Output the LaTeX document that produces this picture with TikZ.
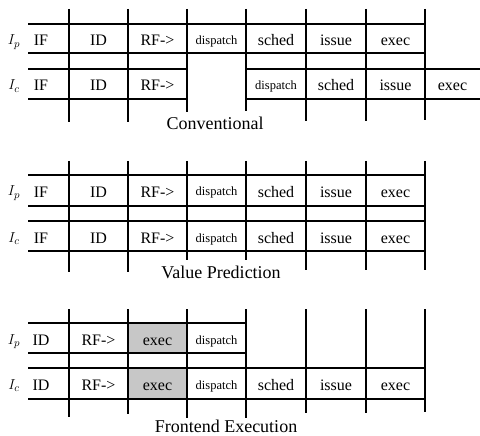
\documentclass[tikz,border=0pt]{standalone}
\usepackage{fontspec}
\setmainfont{Liberation Serif}
\begin{document}
\begin{tikzpicture}[x=1pt,y=-1pt,
  grid/.style={line width=1.2pt, black},
  cell/.style={inner sep=0pt, anchor=base, font=\fontsize{16}{18}\selectfont},
  small/.style={inner sep=0pt, anchor=base, font=\fontsize{12.5}{14}\selectfont},
  lbl/.style={inner sep=0pt, anchor=base, font=\fontsize{15}{17}\selectfont},
  captext/.style={inner sep=0pt, anchor=base, font=\fontsize{18}{20}\selectfont},
  shadecell/.style={fill=black!22, draw=none}]
\useasboundingbox (0,0) rectangle (480,436);

% ---------------- Section 1: Conventional ----------------
\draw[grid] (28,24) -- (425,24) (28,53) -- (425,53);
\draw[grid] (28,69) -- (187,69) (246,69) -- (480,69)
            (28,99) -- (187,99) (246,99) -- (480,99);
\foreach \x/\b in {69/122,128/122,187/112,246/111,306/121,366/121,425/120}
  \draw[grid] (\x,9) -- (\x,\b);

\node[lbl] (a1l) at (14,45) {$I_p$};
\node[lbl] (a2l) at (14,90) {$I_c$};
\node[cell] (a11) at (41,46) {IF};
\node[cell] (a12) at (98.5,46) {ID};
\node[cell] (a13) at (157.5,46) {RF->};
\node[small] (a14) at (216.5,45) {dispatch};
\node[cell] (a15) at (276,46) {sched};
\node[cell] (a16) at (336,46) {issue};
\node[cell] (a17) at (395.5,46) {exec};
\node[cell] (a21) at (41,91) {IF};
\node[cell] (a22) at (98.5,91) {ID};
\node[cell] (a23) at (157.5,91) {RF->};
\node[small] (a25) at (276,90) {dispatch};
\node[cell] (a26) at (336,91) {sched};
\node[cell] (a27) at (395.5,91) {issue};
\node[cell] (a28) at (452.5,91) {exec};
\node[captext] (capa) at (215,130) {Conventional};

% ---------------- Section 2: Value Prediction ----------------
\draw[grid] (28,175) -- (425,175) (28,206) -- (425,206)
            (28,221) -- (425,221) (28,251) -- (425,251);
\foreach \x/\b in {69/272,128/272,187/260,246/260,306/270,366/270,425/270}
  \draw[grid] (\x,161) -- (\x,\b);

\node[lbl] (b1l) at (14,196) {$I_p$};
\node[lbl] (b2l) at (14,242) {$I_c$};
\node[cell] (b11) at (41,197) {IF};
\node[cell] (b12) at (98.5,197) {ID};
\node[cell] (b13) at (157.5,197) {RF->};
\node[small] (b14) at (216.5,196) {dispatch};
\node[cell] (b15) at (276,197) {sched};
\node[cell] (b16) at (336,197) {issue};
\node[cell] (b17) at (395.5,197) {exec};
\node[cell] (b21) at (41,243) {IF};
\node[cell] (b22) at (98.5,243) {ID};
\node[cell] (b23) at (157.5,243) {RF->};
\node[small] (b24) at (216.5,242) {dispatch};
\node[cell] (b25) at (276,243) {sched};
\node[cell] (b26) at (336,243) {issue};
\node[cell] (b27) at (395.5,243) {exec};
\node[captext] (capb) at (221,278) {Value Prediction};

% ---------------- Section 3: Frontend Execution ----------------
\fill[shadecell] (128,323) rectangle (187,353);
\fill[shadecell] (128,368) rectangle (187,399);
\draw[grid] (28,323) -- (246,323) (28,353) -- (246,353);
\draw[grid] (28,368) -- (425,368) (28,399) -- (425,399);
\foreach \x/\b in {69/417,128/414,187/418,246/418,306/413,366/413,425/412}
  \draw[grid] (\x,309) -- (\x,\b);

\node[lbl] (c1l) at (14,344) {$I_p$};
\node[lbl] (c2l) at (14,389) {$I_c$};
\node[cell] (c11) at (41,345) {ID};
\node[cell] (c12) at (98.5,345) {RF->};
\node[cell] (c13) at (157.5,345) {exec};
\node[small] (c14) at (216.5,344) {dispatch};
\node[cell] (c21) at (41,390) {ID};
\node[cell] (c22) at (98.5,390) {RF->};
\node[cell] (c23) at (157.5,390) {exec};
\node[small] (c24) at (216.5,389) {dispatch};
\node[cell] (c25) at (276,390) {sched};
\node[cell] (c26) at (336,390) {issue};
\node[cell] (c27) at (395.5,390) {exec};
\node[captext] (capc) at (226,432) {Frontend Execution};
\end{tikzpicture}
\end{document}
